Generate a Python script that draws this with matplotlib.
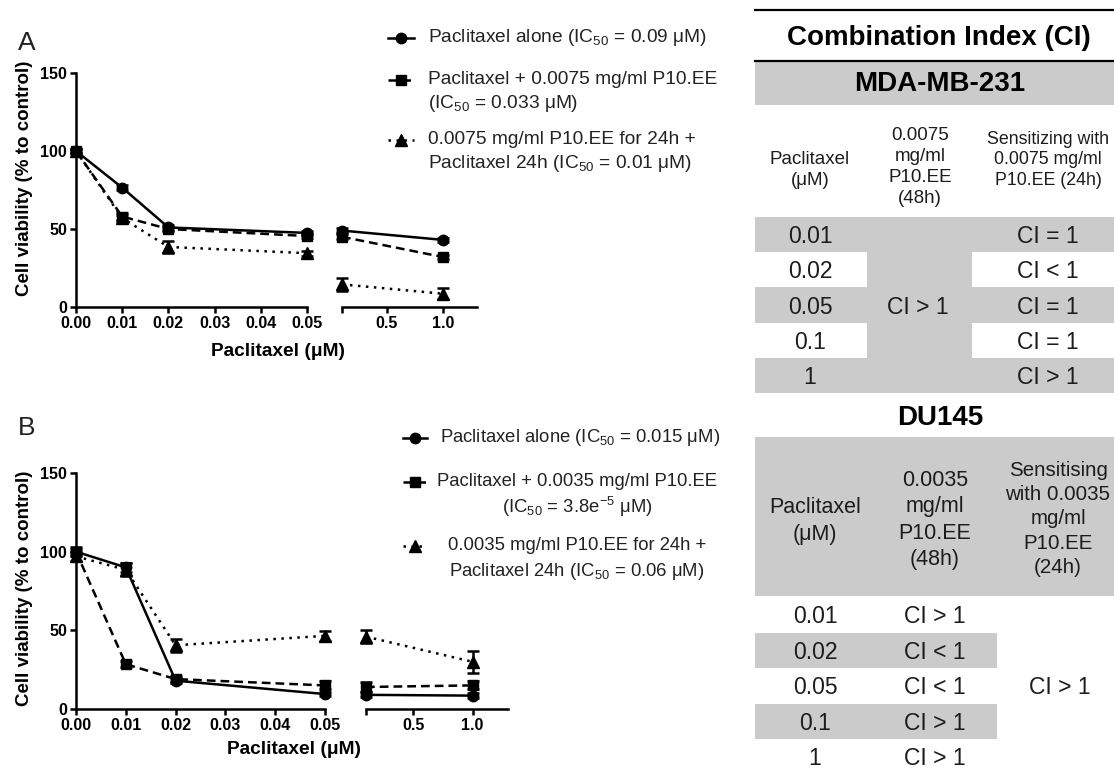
import matplotlib

matplotlib.use("Agg")
import matplotlib.pyplot as plt
from matplotlib.lines import Line2D
from matplotlib.patches import Rectangle

plt.rcParams["font.family"] = ["Liberation Sans", "DejaVu Sans"]
plt.rcParams["mathtext.fontset"] = "custom"
plt.rcParams["mathtext.rm"] = "Liberation Sans"
plt.rcParams["mathtext.it"] = "Liberation Sans:italic"
plt.rcParams["mathtext.bf"] = "Liberation Sans:bold"

W, H = 1114, 769
NARROW = ["Liberation Sans Narrow", "Liberation Sans", "DejaVu Sans"]

# ---- viability data (% to control) ----
x_low = [0.0, 0.01, 0.02, 0.05]
x_high = [0.1, 1.0]

mda_alone = [100, 76.5, 51, 47.5, 49, 43]
mda_alone_err = [1, 1.5, 1.5, 1.5, 1.5, 1.5]
mda_combo = [100, 58, 50, 45.5, 45, 32]
mda_combo_err = [1, 2.5, 1.5, 1.5, 1.5, 1.5]
mda_sens = [100, 57, 38.5, 34.5, 14.5, 8.5]
mda_sens_err = [1, 2, 4, 1.5, 4, 3.5]

du_alone = [100, 90, 18, 9.5, 9, 8.5]
du_alone_err = [2, 3, 1.5, 1, 1.5, 1.5]
du_combo = [100, 28.5, 19, 15, 14, 15]
du_combo_err = [3, 2, 2, 2.5, 3, 2.5]
du_sens = [97, 88.5, 40.5, 46.5, 46, 30]
du_sens_err = [3, 4, 4, 3, 4, 7]

legend_a = [
    ["Paclitaxel alone (IC$_{50}$ = 0.09 μM)"],
    ["Paclitaxel + 0.0075 mg/ml P10.EE", "(IC$_{50}$ = 0.033 μM)"],
    ["0.0075 mg/ml P10.EE for 24h +", "Paclitaxel 24h (IC$_{50}$ = 0.01 μM)"],
]
legend_b = [
    ["Paclitaxel alone (IC$_{50}$ = 0.015 μM)"],
    ["Paclitaxel + 0.0035 mg/ml P10.EE", "(IC$_{50}$ = 3.8e$^{-5}$ μM)"],
    ["0.0035 mg/ml P10.EE for 24h +", "Paclitaxel 24h (IC$_{50}$ = 0.06 μM)"],
]

# ---- combination index table ----
conc = ["0.01", "0.02", "0.05", "0.1", "1"]
mda_head = ["Paclitaxel\n(μM)", "0.0075\nmg/ml\nP10.EE\n(48h)", "Sensitizing with\n0.0075 mg/ml\nP10.EE (24h)"]
mda_ci_48h = "CI > 1"
mda_ci_sens = ["CI = 1", "CI < 1", "CI = 1", "CI = 1", "CI > 1"]
du_head = ["Paclitaxel\n(μM)", "0.0035\nmg/ml\nP10.EE\n(48h)", "Sensitising\nwith 0.0035\nmg/ml\nP10.EE\n(24h)"]
du_ci_48h = ["CI > 1", "CI < 1", "CI < 1", "CI > 1", "CI > 1"]
du_ci_sens = "CI > 1"

STYLES = [
    dict(marker="o", linestyle="-", ms=7.5),
    dict(marker="s", linestyle=(0, (3.5, 2)), ms=7.5),
    dict(marker="^", linestyle=(0, (1, 2.2)), ms=8),
]
LW = 1.8


def box(x0, y0, x1, y1):
    return [x0 / W, 1 - y1 / H, (x1 - x0) / W, (y1 - y0) / H]


def plot_series(ax, x, y, err, st):
    ax.plot(x, y, color="black", lw=LW, linestyle=st["linestyle"], marker=st["marker"],
            ms=st["ms"], clip_on=False, zorder=3)
    eb = ax.errorbar(x, y, yerr=err, fmt="none", ecolor="black", elinewidth=LW,
                     capsize=4, capthick=LW, zorder=3)
    for part in eb.lines:
        for art in (part if isinstance(part, tuple) else [part]):
            if art is not None:
                art.set_clip_on(False)


def panel(ax_l, ax_r, series):
    for (y, err), st in zip(series, STYLES):
        plot_series(ax_l, x_low, y[:4], err[:4], st)
        plot_series(ax_r, x_high, y[4:], err[4:], st)

    for ax in (ax_l, ax_r):
        ax.set_ylim(0, 150)
        ax.spines["top"].set_visible(False)
        ax.spines["right"].set_visible(False)
        ax.spines["bottom"].set_linewidth(LW)
        ax.spines["left"].set_linewidth(LW)
        ax.tick_params(direction="out", length=4.5, width=LW, pad=2)
        ax.patch.set_alpha(0)

    x_ticks = [0, 0.01, 0.02, 0.03, 0.04, 0.05]
    ax_l.set_xlim(0, 0.05)
    ax_l.set_xticks(x_ticks)
    ax_l.set_xticklabels([f"{t:.2f}" for t in x_ticks], fontweight="bold", fontsize=11.5)
    ax_l.set_yticks([0, 50, 100, 150])
    ax_l.set_yticklabels(["0", "50", "100", "150"], fontweight="bold", fontsize=11.5)

    ax_r.set_xlim(0.1, 1.3)
    ax_r.set_xticks([0.5, 1.0])
    ax_r.set_xticklabels(["0.5", "1.0"], fontweight="bold", fontsize=11.5)
    ax_r.set_xticks([0.1], minor=True)
    ax_r.tick_params(which="minor", direction="out", length=4.5, width=LW)
    ax_r.spines["left"].set_visible(False)
    ax_r.tick_params(axis="y", left=False, labelleft=False)


def legend(fig, rows, ys, hx, tx, centered, fs):
    for (lines, y0), st in zip(zip(rows, ys), STYLES):
        h = Line2D([v / W for v in hx], [1 - y0 / H] * 3, transform=fig.transFigure,
                   color="black", lw=LW, linestyle=st["linestyle"], marker=st["marker"],
                   ms=st["ms"], markevery=[1])
        fig.add_artist(h)
        for i, line in enumerate(lines):
            if centered and len(lines) > 1:
                fig.text(tx[1] / W, 1 - (y0 + 25 * i) / H, line, ha="center", va="center",
                         fontsize=fs, color="#222222")
            else:
                fig.text(tx[0] / W, 1 - (y0 + 24 * i) / H, line, ha="left", va="center",
                         fontsize=fs, color="#222222")


fig = plt.figure(figsize=(W / 100, H / 100), dpi=100)

# ---- table (pixel coordinates) ----
tab = fig.add_axes([0, 0, 1, 1], zorder=0)
tab.set_xlim(0, W)
tab.set_ylim(H, 0)
tab.axis("off")
GREY = "#cbcbcb"
INK = "#1c1c1c"


def rect(x0, y0, x1, y1):
    tab.add_patch(Rectangle((x0, y0), x1 - x0, y1 - y0, facecolor=GREY, edgecolor="none"))


tab.plot([755, W], [9.5, 9.5], color="black", lw=1.6)
tab.text(939, 38, "Combination Index (CI)", ha="center", va="center", fontsize=20,
         fontweight="bold", color="black")
tab.plot([755, W], [60.5, 60.5], color="black", lw=1.6)

# MDA-MB-231 block
rect(755, 61, W, 105)
tab.text(940, 84, "MDA-MB-231", ha="center", va="center", fontsize=20, fontweight="bold", color="black")
for xc, yc, txt, fs in zip([810, 920, 1048], [170, 167, 160], mda_head, [13.5, 13.5, 12.8]):
    tab.text(xc, yc, txt, ha="center", va="center", fontsize=fs, linespacing=1.3,
             family=NARROW, color=INK)
row_top, row_h = 217, 35.2
rect(867, row_top, 972, row_top + 5 * row_h)
for i, (c, ci) in enumerate(zip(conc, mda_ci_sens)):
    y0 = row_top + i * row_h
    if i % 2 == 0:
        rect(755, y0, W, y0 + row_h)
    tab.text(810, y0 + row_h / 2 + 2, c, ha="center", va="center", fontsize=16.5, family=NARROW, color=INK)
    tab.text(1048, y0 + row_h / 2 + 2, ci, ha="center", va="center", fontsize=16.5, family=NARROW, color=INK)
tab.text(918, row_top + 2.5 * row_h + 2, mda_ci_48h, ha="center", va="center", fontsize=16.5,
         family=NARROW, color=INK)

# DU145 block
tab.text(940, 418, "DU145", ha="center", va="center", fontsize=20, fontweight="bold", color="black")
rect(755, 437, W, 596)
for xc, yc, txt, fs in zip([815, 935, 1058], [521, 520, 519], du_head, [15.5, 15.5, 14.8]):
    tab.text(xc, yc, txt, ha="center", va="center", fontsize=fs, linespacing=1.35,
             family=NARROW, color=INK)
row_top, row_h = 597, 35.5
for i, (c, ci) in enumerate(zip(conc, du_ci_48h)):
    y0 = row_top + i * row_h
    if i % 2 == 1:
        rect(755, y0, 997, y0 + row_h)
    tab.text(815, y0 + row_h / 2 + 2, c, ha="center", va="center", fontsize=16.5, family=NARROW, color=INK)
    tab.text(935, y0 + row_h / 2 + 2, ci, ha="center", va="center", fontsize=16.5, family=NARROW, color=INK)
tab.text(1060, row_top + 2.5 * row_h + 2, du_ci_sens, ha="center", va="center", fontsize=16.5,
         family=NARROW, color=INK)

# ---- panel A ----
axA1 = fig.add_axes(box(76, 73, 307, 307), zorder=2)
axA2 = fig.add_axes(box(342, 73, 477, 307), zorder=2)
panel(axA1, axA2, [(mda_alone, mda_alone_err), (mda_combo, mda_combo_err), (mda_sens, mda_sens_err)])
fig.text(27 / W, 1 - 43 / H, "A", ha="center", va="center", fontsize=19, family=NARROW, color="#222222")
fig.text(25 / W, 1 - 178 / H, "Cell viability (% to control)", rotation=90, ha="center",
         va="center", fontsize=13.5, fontweight="bold")
fig.text(278 / W, 1 - 352 / H, "Paclitaxel (μM)", ha="center", va="center", fontsize=13.8, fontweight="bold")
legend(fig, legend_a, [38, 80, 140], [388, 401, 414], [428, 0], centered=False, fs=13.8)

# ---- panel B ----
axB1 = fig.add_axes(box(76, 473, 325, 709), zorder=2)
axB2 = fig.add_axes(box(366, 473, 508, 709), zorder=2)
panel(axB1, axB2, [(du_alone, du_alone_err), (du_combo, du_combo_err), (du_sens, du_sens_err)])
fig.text(27 / W, 1 - 428 / H, "B", ha="center", va="center", fontsize=19, family=NARROW, color="#222222")
fig.text(25 / W, 1 - 588 / H, "Cell viability (% to control)", rotation=90, ha="center",
         va="center", fontsize=13.5, fontweight="bold")
fig.text(294 / W, 1 - 750 / H, "Paclitaxel (μM)", ha="center", va="center", fontsize=13.8, fontweight="bold")
legend(fig, legend_b, [438, 482, 546], [403, 415, 427], [440, 577], centered=True, fs=13.3)

fig.savefig("out.png", dpi=100)
